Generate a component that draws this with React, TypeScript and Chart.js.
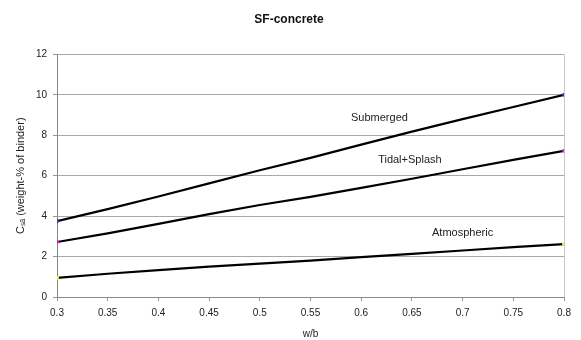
import React, { useEffect, useRef } from "react";
import { Chart, registerables } from "chart.js";

Chart.register(...registerables);

const wb = [0.3, 0.35, 0.4, 0.45, 0.5, 0.55, 0.6, 0.65, 0.7, 0.75, 0.8];
const submerged = [3.75, 4.35, 4.97, 5.62, 6.27, 6.88, 7.54, 8.18, 8.8, 9.4, 10.0];
const tidalSplash = [2.72, 3.15, 3.62, 4.1, 4.55, 4.95, 5.4, 5.85, 6.32, 6.78, 7.23];
const atmospheric = [0.95, 1.15, 1.33, 1.5, 1.65, 1.8, 1.97, 2.13, 2.3, 2.47, 2.62];

const seriesNames = ["Submerged", "Tidal+Splash", "Atmospheric"];
const markerColors = ["#3333cc", "#ff00ff", "#ffff00"];
// label anchor positions in data units [w/b, value]
const labelX = [0.618, 0.648, 0.7];
const labelY = [8.87, 6.8, 3.17];

const FONT = "'Liberation Sans', Arial, sans-serif";

const labelPlugin = {
  id: "seriesLabels",
  afterDatasetsDraw(chart: any) {
    const { ctx, scales } = chart;
    ctx.save();
    ctx.font = `11px ${FONT}`;
    ctx.fillStyle = "#222";
    ctx.textAlign = "center";
    ctx.textBaseline = "middle";
    seriesNames.forEach((n, i) => {
      ctx.fillText(n, scales.x.getPixelForValue(labelX[i]), scales.y.getPixelForValue(labelY[i]));
    });
    ctx.restore();
  },
};

export default function App() {
  const ref = useRef<HTMLCanvasElement>(null);
  useEffect(() => {
    const series = [submerged, tidalSplash, atmospheric];
    const chart = new Chart(ref.current!, {
      type: "line",
      data: {
        datasets: series.map((s, i) => ({
          label: seriesNames[i],
          data: s.map((v, j) => ({ x: wb[j], y: v })),
          borderColor: "#000",
          borderWidth: 2.2,
          pointRadius: s.map((_, j) => (j === 0 || j === s.length - 1 ? 2 : 0)),
          pointBackgroundColor: markerColors[i],
          pointBorderWidth: 0,
          tension: 0,
        })),
      },
      options: {
        animation: false,
        responsive: false,
        layout: { padding: { left: 14, right: 17, top: 0, bottom: 0 } },
        plugins: {
          legend: { display: false },
          tooltip: { enabled: false },
          title: {
            display: true,
            text: "SF-concrete",
            color: "#111",
            font: { family: FONT, size: 12, weight: "bold" },
            padding: { top: 12, bottom: 28 },
          },
        },
        scales: {
          x: {
            type: "linear",
            min: 0.3,
            max: 0.8,
            ticks: {
              stepSize: 0.05,
              color: "#222",
              font: { family: FONT, size: 10 },
              padding: 6,
              callback: (v: any) => String(+Number(v).toFixed(2)),
            },
            grid: {
              color: (c: any) => (c.index === 10 ? "#c8c8c8" : "rgba(0,0,0,0)"),
              tickColor: "#999",
              tickLength: 4,
            },
            border: { color: "#888" },
            title: {
              display: true,
              text: "w/b",
              color: "#222",
              font: { family: FONT, size: 10 },
              padding: { top: 2, bottom: 0 },
            },
            afterFit: (s: any) => {
              s.height = 43;
            },
          },
          y: {
            min: 0,
            max: 12,
            ticks: {
              stepSize: 2,
              color: "#222",
              font: { family: FONT, size: 10 },
              padding: 6,
            },
            grid: { color: "#a8a8a8", tickColor: "#999", tickLength: 4 },
            border: { color: "#888" },
            title: {
              display: true,
              text: "Cₛₐ (weight-% of binder)",
              color: "#222",
              font: { family: FONT, size: 11 },
              padding: { top: 0, bottom: 4 },
            },
            afterFit: (s: any) => {
              s.width = 43;
            },
          },
        },
      },
      plugins: [labelPlugin],
    });
    return () => chart.destroy();
  }, []);
  return (
    <div style={{ position: "absolute", left: 0, top: 0, width: 581, height: 340, background: "#fff" }}>
      <canvas ref={ref} width={581} height={340} />
    </div>
  );
}
